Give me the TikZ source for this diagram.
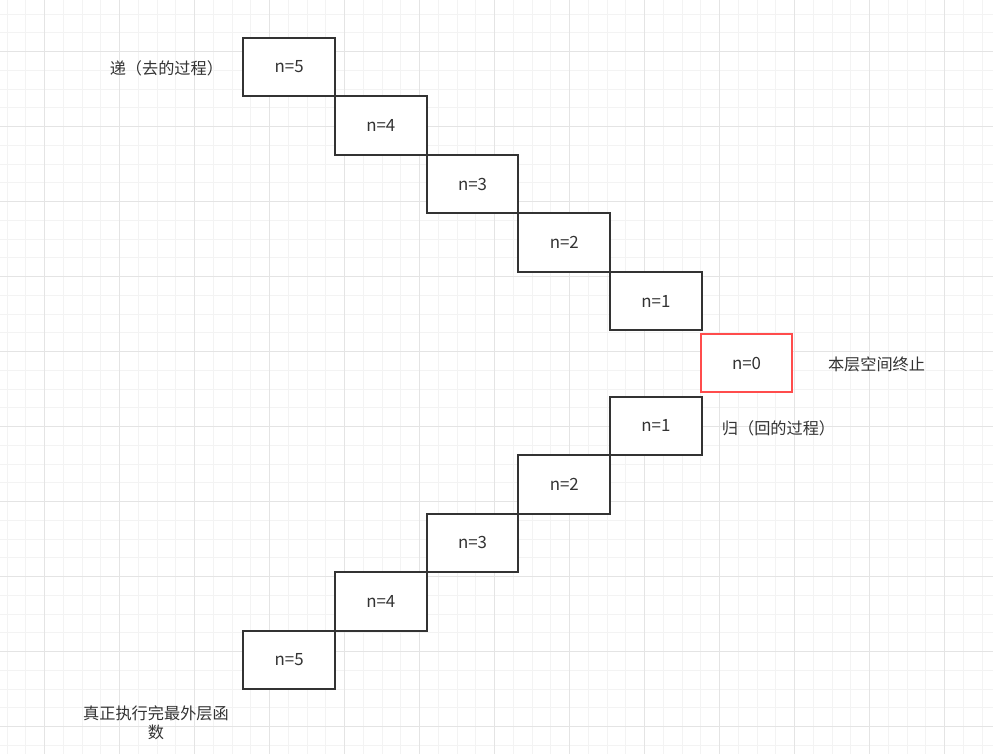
\documentclass[tikz,border=0pt]{standalone}
\usepackage{fontspec}
\setmainfont{Noto Sans CJK SC}
\usepackage{tikz}
\usetikzlibrary{positioning}

\definecolor{gridminor}{RGB}{243,243,243}
\definecolor{gridmajor}{RGB}{228,228,228}
\definecolor{boxline}{RGB}{51,51,51}
\definecolor{stopred}{RGB}{255,76,76}
\definecolor{textgray}{RGB}{51,51,51}

\begin{document}
\begin{tikzpicture}[
    block/.style={rectangle, draw=boxline, line width=1.1pt, fill=white,
                  minimum width=1.834cm, minimum height=1.17cm, inner sep=0pt,
                  text=textgray, font=\fontsize{9.6}{11}\selectfont},
    stopblock/.style={block, draw=stopred},
    label/.style={text=textgray, font=\fontsize{9.2}{11}\selectfont},
    minorline/.style={draw=gridminor, line width=0.57pt},
    majorline/.style={draw=gridmajor, line width=0.57pt}
]

    % Page and grid
    \useasboundingbox (0,0) rectangle (19.86,-15.06);
    \fill[white] (0,0) rectangle (19.86,-15.06);
    \begin{scope}
        \clip (0,0) rectangle (19.86,-15.06);
        \begin{scope}[shift={(0.144,-0.284)}]
            \draw[minorline, step=0.375] (-0.75,-15.75) grid (20.25,0.75);
        \end{scope}
        \begin{scope}[shift={(0.894,-1.034)}]
            \draw[majorline, step=1.5] (-1.5,-15) grid (19.5,1.5);
        \end{scope}
    \end{scope}

    % Going down
    \node[block] (go5) at (5.783, -1.340) {n=5};
    \node[block] (go4) at (7.617, -2.510) {n=4};
    \node[block] (go3) at (9.451, -3.680) {n=3};
    \node[block] (go2) at (11.285, -4.850) {n=2};
    \node[block] (go1) at (13.119, -6.020) {n=1};

    % Stop case
    \node[stopblock] (base) at (14.930, -7.264) {n=0};

    % Coming back
    \node[block] (back1) at (13.119, -8.519) {n=1};
    \node[block] (back2) at (11.285, -9.689) {n=2};
    \node[block] (back3) at (9.451, -10.859) {n=3};
    \node[block] (back4) at (7.617, -12.029) {n=4};
    \node[block] (back5) at (5.783, -13.199) {n=5};

    % Labels
    \node[label] (golabel) at (3.327, -1.367) {递（去的过程）};
    \node[label] (baselabel) at (17.530, -7.280) {本层空间终止};
    \node[label] (backlabel) at (15.570, -8.567) {归（回的过程）};
    \node[label, align=center] (donelabel) at (3.120, -14.450)
        {真正执行完最外层函\\数};

\end{tikzpicture}
\end{document}
